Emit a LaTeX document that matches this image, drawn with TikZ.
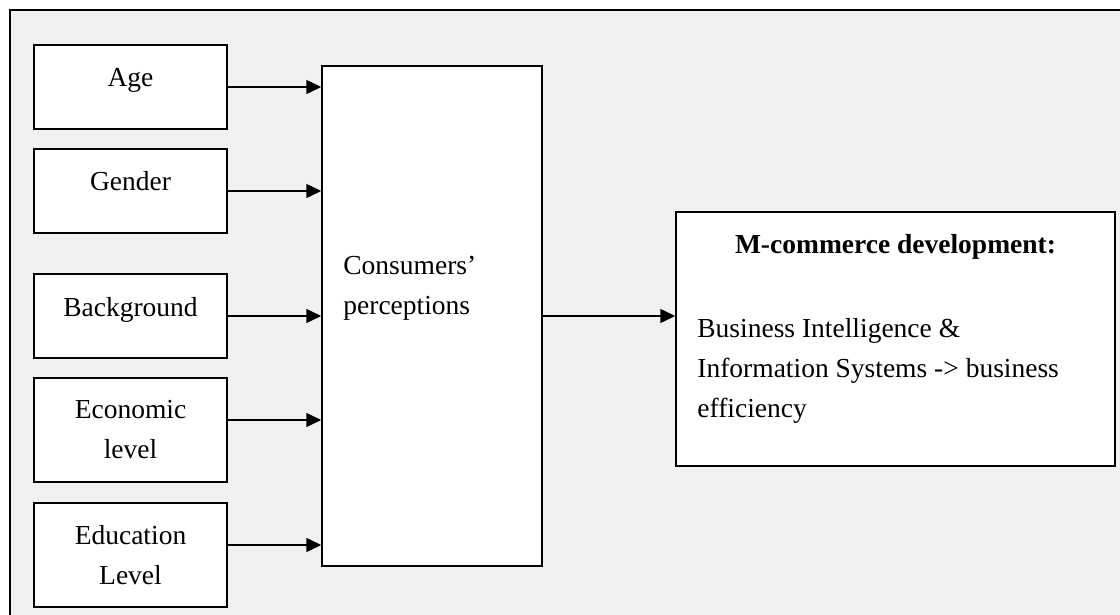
\documentclass[tikz,border=0pt]{standalone}
\usepackage{fontspec}
\setmainfont{Liberation Serif}
\usepackage{tikz}
\usetikzlibrary{positioning, arrows.meta, calc}
\definecolor{panelgray}{HTML}{F1F1F1}

\begin{document}
\begin{tikzpicture}[x=0.5pt, y=-0.5pt,
    every node/.style={font=\fontsize{13.75pt}{20pt}\selectfont},
    factor/.style={draw, fill=white, line width=0.75pt, minimum width=96.5pt, align=center, inner sep=0pt},
    oneline/.style={text height=9.6pt, text depth=9.6pt},
    flow/.style={-{Triangle[length=7.5pt, width=7pt]}, line width=0.75pt}]
    \useasboundingbox (0,0) rectangle (1120,615);
    \draw[fill=panelgray, line width=1pt] (10,10) rectangle (1135,630);

    \node[factor, oneline, minimum height=42pt] (age) at (130.5,87) {Age};
    \node[factor, oneline, minimum height=42pt] (gender) at (130.5,191) {Gender};
    \node[factor, oneline, minimum height=42pt] (background) at (130.5,316) {Background};
    \node[factor, minimum height=52pt] (economic) at (130.5,430) {Economic\\level};
    \node[factor, minimum height=52pt] (education) at (130.5,555) {Education\\Level};

    \node[draw, fill=white, line width=0.75pt, minimum width=110pt, minimum height=250pt] (cons) at (432,316) {};
    \node[anchor=north west, align=left, inner sep=0pt] (consText) at (343,256) {Consumers'\\perceptions};

    \node[draw, fill=white, line width=0.75pt, minimum width=219.5pt, minimum height=127pt] (mcom) at (895.5,339) {};
    \node[anchor=north, inner sep=0pt] (mcomTitle) at (895.5,234) {\textbf{M-commerce development:}};
    \node[anchor=north west, align=left, inner sep=0pt] (mcomBody) at (697,318) {Business Intelligence \&\\Information Systems -> business\\efficiency};

    \draw[flow] (age.east) -- (age.east -| cons.west);
    \draw[flow] (gender.east) -- (gender.east -| cons.west);
    \draw[flow] (background.east) -- (background.east -| cons.west);
    \draw[flow] ([yshift=5pt]economic.east) -- ([yshift=5pt]economic.east -| cons.west);
    \draw[flow] ([yshift=5pt]education.east) -- ([yshift=5pt]education.east -| cons.west);
    \draw[flow] (cons.east) -- (cons.east -| mcom.west);
\end{tikzpicture}
\end{document}
